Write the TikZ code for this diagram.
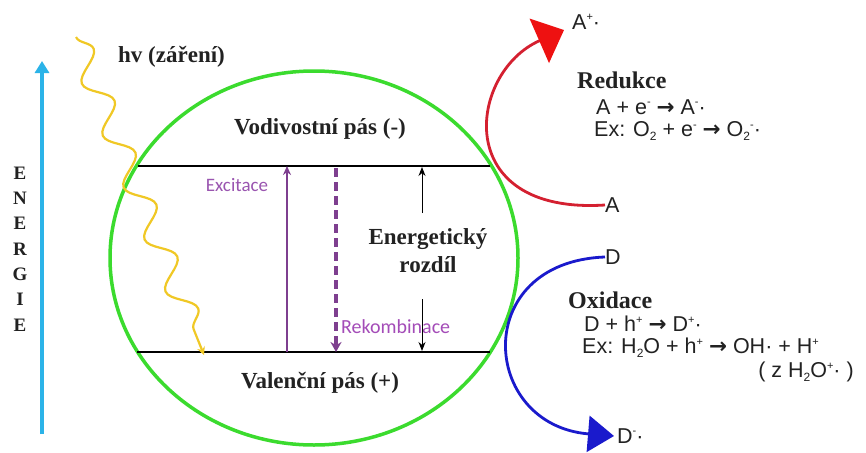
\documentclass[tikz,border=0pt]{standalone}
\usepackage{fontspec}
\setmainfont{Liberation Serif}
\newfontfamily\sansf{Liberation Sans}
\newfontfamily\calf{Carlito}
\newfontfamily\arrf{DejaVu Sans}
\usetikzlibrary{arrows.meta,decorations.pathmorphing,shapes.geometric}
\newcommand{\myarr}{{\arrf\bfseries →}}
\newcommand{\sups}[1]{\raisebox{0.75ex}{\fontsize{11}{11}\selectfont #1}}
\newcommand{\subs}[1]{\raisebox{-0.35ex}{\fontsize{12}{12}\selectfont #1}}
\definecolor{grn}{HTML}{3BDB2E}
\definecolor{cyanE}{HTML}{2BB3E8}
\definecolor{yel}{HTML}{F0C825}
\definecolor{redc}{HTML}{D42030}
\definecolor{redh}{HTML}{EE1111}
\definecolor{bluec}{HTML}{1A1ACC}
\definecolor{purp}{HTML}{7E3F8F}
\definecolor{purpt}{HTML}{9A55B0}
\definecolor{txt}{HTML}{222222}
\begin{document}
\begin{tikzpicture}[x=1pt,y=-1pt,
  serifbold/.style={font=\fontsize{23}{26}\selectfont\bfseries, text=txt, inner sep=0pt},
  formula/.style={font=\sansf\fontsize{21.5}{23}\selectfont, text=txt, inner sep=0pt, anchor=west},
  purplabel/.style={font=\calf\fontsize{19}{21}\selectfont, text=purpt, inner sep=0pt},
  band/.style={line width=2.6pt, black},
  gaparrow/.style={line width=1pt, black, -{Stealth[length=9pt,width=7pt]}},
]
\useasboundingbox (0,0) rectangle (866,452);
\fill[white] (0,0) rectangle (866,452);

% particle
\node[draw=grn, line width=3.5pt, ellipse, minimum width=408pt, minimum height=374pt, inner sep=0pt] (circ) at (314,258) {};

% bands
\coordinate (cbL) at (138,166); \coordinate (cbR) at (490,166);
\coordinate (vbL) at (137,352); \coordinate (vbR) at (490,352);
\draw[band] (cbL) -- (cbR);
\draw[band] (vbL) -- (vbR);

% band labels
\node[serifbold] (vod) at (320,129) {Vodivostní pás (-)};
\node[serifbold] (val) at (320,383) {Valenční pás (+)};
\node[serifbold, align=center, font=\fontsize{23}{28}\selectfont\bfseries] (gap) at (428,251) {Energetický\\rozdíl};

% excitation / recombination
\coordinate (exB) at (287,352); \coordinate (exT) at (287,166);
\draw[purp, line width=2pt, -{Stealth[length=9pt,width=8pt]}] (exB) -- (exT);
\node[purplabel] (exc) at (237,185) {Excitace};
\node[purplabel, anchor=west, font=\calf\fontsize{20}{22}\selectfont, text=purpt!90!magenta] (rek) at (341,327) {Rekombinace};
\coordinate (reT) at (336,168); \coordinate (reB) at (336,352);
\draw[purp, line width=3.5pt, dash pattern=on 9pt off 5pt, -{Stealth[length=10pt,width=11pt]}] (reT) -- (reB);

% energy gap arrows
\coordinate (g1) at (422,213); \coordinate (g1t) at (422,167);
\coordinate (g2) at (422,299); \coordinate (g2b) at (422,351);
\draw[gaparrow] (g1) -- (g1t);
\draw[gaparrow] (g2) -- (g2b);

% energy axis
\coordinate (eB) at (42,434); \coordinate (eT) at (42,61);
\draw[cyanE, line width=4.5pt, -{Triangle[length=12pt,width=14pt]}] (eB) -- (eT);
\node[font=\fontsize{19}{25.3}\selectfont\bfseries, text=txt, align=center, inner sep=0pt] (energ) at (20,249) {E\\N\\E\\R\\G\\I\\E};

% light
\node[serifbold, anchor=west] (hv) at (118,57) {hv (záření)};
\coordinate (lS) at (76,37); \coordinate (lE) at (204,355);
\draw[yel, line width=2.2pt, decorate, decoration={snake, amplitude=12pt, segment length=56pt, post length=10pt}, -{Stealth[length=8pt,width=8pt]}] (lS) -- (lE);

% reduction
\node[formula] (A) at (605,205) {A};
\node[formula] (Ared) at (572,22) {A\sups{+}·};
\coordinate (redtip) at (564,30);
\draw[redc, line width=2.8pt, -{Triangle[length=27pt,width=48pt,fill=redh,color=redh]}] (A.west) .. controls (450,215) and (468,72) .. (redtip);
\node[serifbold, anchor=west, font=\fontsize{24}{26}\selectfont\bfseries] (red) at (577,80) {Redukce};
\node[formula] (r1) at (596,107) {A + e\sups{-} \myarr\ A\sups{-}·};
\node[formula] (r2) at (594,131) {Ex: O\subs{2} + e\sups{-} \myarr\ O\subs{2}\sups{-}·};

% oxidation
\node[formula] (D) at (605,257) {D};
\node[formula] (Dox) at (617,436) {D\sups{-}·};
\coordinate (bluetip) at (614,436);
\draw[bluec, line width=2.8pt, -{Triangle[length=26pt,width=36pt]}] (D.west) .. controls (470,262) and (480,425) .. (bluetip);
\node[serifbold, anchor=west, font=\fontsize{24}{26}\selectfont\bfseries] (ox) at (568,300) {Oxidace};
\node[formula] (o1) at (584,324) {D + h\sups{+} \myarr\ D\sups{+}·};
\node[formula] (o2) at (582,348) {Ex: H\subs{2}O + h\sups{+} \myarr\ OH· + H\sups{+}};
\node[formula, anchor=center] (o3) at (806,372) {( z H\subs{2}O\sups{+}· )};
\end{tikzpicture}
\end{document}
